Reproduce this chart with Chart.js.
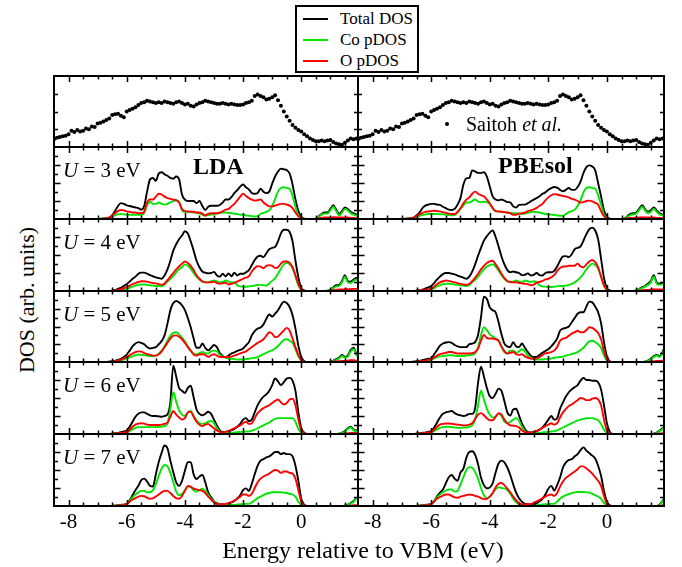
<!DOCTYPE html>
<html>
<head>
<meta charset="utf-8">
<title>DOS vs U</title>
<script src="https://cdn.jsdelivr.net/npm/chart.js@4.4.1/dist/chart.umd.min.js"></script>
<style>
  html, body { margin:0; padding:0; background:#fff; }
  #fig { position:relative; width:682px; height:567px; overflow:hidden; font-family:"Liberation Serif","Times New Roman",serif; color:#000; }
  #fig canvas { position:absolute; }
  .txt { position:absolute; white-space:nowrap; line-height:1; }
</style>
</head>
<body>
<div id="fig"></div>
<script>
// ---- axis / tick values ----
const E_MIN = -8.5, E_MAX = 1.95;
const X_LABELS = [-8, -6, -4, -2, 0];
const X_MINOR = [-8, -7.5, -7, -6.5, -6, -5.5, -5, -4.5, -4, -3.5, -3, -2.5, -2, -1.5, -1, -0.5, 0, 0.5, 1, 1.5];
const Y_MINOR = [12.5, 25, 37.5, 50, 62.5, 75, 87.5];
const Y_MAJOR = [25, 50, 75];
const U_VALUES = [3, 4, 5, 6, 7];

// energy grids (eV)
const E_VB = [-7.0,-6.9,-6.8,-6.7,-6.6,-6.5,-6.4,-6.3,-6.2,-6.1,-6.0,-5.9,-5.8,-5.7,-5.6,-5.5,-5.4,-5.3,-5.2,-5.1,-5.0,-4.9,-4.8,-4.7,-4.6,-4.5,-4.4,-4.3,-4.2,-4.1,-4.0,-3.9,-3.8,-3.7,-3.6,-3.5,-3.4,-3.3,-3.2,-3.1,-3.0,-2.9,-2.8,-2.7,-2.6,-2.5,-2.4,-2.3,-2.2,-2.1,-2.0,-1.9,-1.8,-1.7,-1.6,-1.5,-1.4,-1.3,-1.2,-1.1,-1.0,-0.9,-0.8,-0.7,-0.6,-0.5,-0.4,-0.3,-0.2,-0.1,0.0,0.1,0.2];
const E_CB = [0.4,0.5,0.6,0.7,0.8,0.9,1.0,1.1,1.2,1.3,1.4,1.5,1.6,1.7,1.8,1.9,1.95];

// ---- Saitoh et al. experiment ----
const EXP_E = [-8.5,-8.4,-8.3,-8.2,-8.1,-8.0,-7.9,-7.8,-7.7,-7.6,-7.5,-7.4,-7.3,-7.2,-7.1,-7.0,-6.9,-6.8,-6.7,-6.6,-6.5,-6.4,-6.3,-6.2,-6.1,-6.0,-5.9,-5.8,-5.7,-5.6,-5.5,-5.4,-5.3,-5.2,-5.1,-5.0,-4.9,-4.8,-4.7,-4.6,-4.5,-4.4,-4.3,-4.2,-4.1,-4.0,-3.9,-3.8,-3.7,-3.6,-3.5,-3.4,-3.3,-3.2,-3.1,-3.0,-2.9,-2.8,-2.7,-2.6,-2.5,-2.4,-2.3,-2.2,-2.1,-2.0,-1.9,-1.8,-1.7,-1.6,-1.5,-1.4,-1.3,-1.2,-1.1,-1.0,-0.9,-0.8,-0.7,-0.6,-0.5,-0.4,-0.3,-0.2,-0.1,0.0,0.1,0.2,0.3,0.4,0.5,0.6,0.7,0.8,0.9,1.0,1.1,1.2,1.3,1.4,1.5,1.6,1.7,1.8,1.9];
const EXP_I = [11,13,14,15,16,18,23,21,24,22, 23,26,25,29,28,33,34,36,38,40, 45,46,47,44,42,50,52,54,56,59,
  62,63,65,64,63,62,63,62,64,63, 62,61,63,64,62,60,61,58,57,60, 62,63,65,64,63,62,61,61,62,61,
  60,61,60,59,59,60,62,63,65,72, 74,72,70,67,68,70,73,66,58,50, 43,37,31,27,24,22,18,15,12,10,
  8,8,9,8,9,10,7,5,4,3, 6,9,12,11,12];

// ---- LDA, valence band (Total / Co p / O p) ----
const LDA3_TOT = [0,0.3,0.7,1.2, 2,5,11,18,22,21,19,18,17,16, 15,13,18,38,55,57,53,63,65,62, 60,57,56,59,55,34,27,25,25,25, 22,25,18,12.5,17,18.5,18.5,18.5,19.5,23, 27,27,30.5,36,40,45,48,44,41,36, 35,36,42,38,36,38,49,59,66,70, 69,68,63,48,27,11,3,0.5,0];
const LDA3_CO = [0,0.1,0.3,0.5, 1,3,5,6.5,7,6.5,6,6,6,6, 6,6,8,19,24,21,21,23,21,20, 21,23,25,26,24,12,10,10,9.5,9, 8.5,8,6,4.5,5.5,6,7,7.5,8.5,9, 9,8.5,8,7.5,7,6,6,5,4.5,4, 3.5,4,7,8.5,10,12,18,28,38,43, 44,43,42,32,17,5,1.5,0,0];
const LDA3_O = [0,0.2,0.4,0.7, 2,5,8,11,12.5,12,10.5,10,9,9, 8,8,10.5,23,27,27,31,35,34,31, 29,28,27,26,23,14,11,10.5,10,10, 9,9,7.5,5,7,8,8,8,9,10.5, 13,14,17.5,21,26,31,35,32,29,27, 25.5,26,27,23,20,17.5,17.5,18.5,20,21, 21,20,18.5,15,9,3.7,1.4,0,0];
const LDA4_TOT = [0,0,0,0, 0,0.5,1.4,3,4.5,7,9.5,13,17,20, 24,25.5,25.5,24,22,20.5,19,18,17,21.5, 30,42,56,65,72,77,83,80,69,56, 42,33,27,25.5,24.5,25,26.5,21.5,20,24, 20.5,24.5,20.5,25.5,21.5,24,24,26,29,36, 43,48,49,47,52.5,58,60,61,69,80, 85,85,82,69,42,19,4,1,0];
const LDA4_CO = [0,0,0,0, 0,0.2,0.5,1,1.5,2,3,4.5,6,7.5, 8.5,9,9,8.5,8,7.5,7,7,6.5,9, 13,17,21,26,30,33,37,35,31,25, 20,16,13,12,12,13.5,14.5,13.5,12,12.5, 14.5,13,12,12,8,6.5,6,6,6.5,7, 7.5,8.5,8.5,8,7.5,10.5,14,18,24,31, 37,39,37,32,20,8,2,0,0];
const LDA4_O = [0,0,0,0, 0,0.3,0.8,1.5,2.5,4,5.5,7.5,9.5,11, 12.5,13.5,13.5,13,12,11,10.5,9.5,8.5,10.5, 15,20,25,30,34,38,41,39,35,29, 22,17,13.5,12,12,12,13,11,10,11, 11.5,9,10,11.5,13,15,17,18.5,20.5,27, 32,34.5,34,31.5,35,36,35,32,33,38, 41,41,39,33,22,10,2,0,0];
const LDA5_TOT = [0,0,0,0, 0.5,1,2,3,4.5,7,10.5,16,22,26, 28,27,25,21,19,20,21,25,29.5,37.5, 54,73,83,86,84,80,73,62,49,33, 20,20,26,20,16.5,20,24,21,12.5,8.5, 7,9,12,13.5,15.5,17,19,23.5,28,37.5, 43.5,47,48.5,53,61,67,64,68,73,80, 85,83,77.5,66,47,23,7,1.5,0];
const LDA5_CO = [0,0,0,0, 0.2,0.4,0.8,1.5,2.5,3.5,5,6.5,8,9.5, 10.5,10,9.5,9,8.5,8.5,9,11.5,16,22, 30,37,41,42,39,34,29,22,16,12, 11,12.5,14,12.5,12,15,16,15,10,7.5, 6,5,4.5,4,3.5,3.5,3.5,4,4.5,5.5, 6,7,9,11,13,15,16.5,19,22.5,27, 31,32,30,27,18,8,2,0,0];
const LDA5_O = [0,0,0,0, 0.3,0.6,1.2,2,3,5,7,9.5,12,14, 15,14.5,12.5,11,10,9,9,11,15,21, 27,33,37,37.5,35.5,32,27,21,16,10.5, 9,11,11,10,7,9.5,11,9,7,7, 7,7,7.5,9,10.5,12,13.5,15,18,21, 24,27,29,32,37,42,40,35,36,40, 44.5,48,44,33,21,10,3,0.5,0];
const LDA6_TOT = [0,0,0,0, 0,0.5,1,1.5,2.5,3.5,5,10,17,24, 28,30,30,28,26,25,25,24.5,24,25, 27,44,95,80,64,60,57,64,67,51, 34,28,26,28,31,28,20,12,5,2.5, 3,4,5,7,10,14,20,22,18,20, 30,40,47,52,55,60,68,77,73,68, 72,77,78,74,60,30,8,2,0];
const LDA6_CO = [0,0,0,0, 0,0.2,0.5,0.8,1,1.5,2,4,6.5,8.5, 9.5,9.5,9.5,9.5,9.5,9.5,9.5,10,10,11, 14,35,58,45,33,27,25,30,32,25, 19,15,14,15,17,18,15,8,3,1.5, 1.5,1.5,1.5,2,2.5,3,3,3.5,3.5,4.5, 6,8,10,12,14,16,19,21,22,22, 22,22,22,22,17,7,2,0,0];
const LDA6_O = [0,0,0,0, 0,0.3,0.7,1,1.5,2,3,6,10,13, 14.5,15,14.5,13,12.5,12.5,12.5,12.5,13,14, 16,24,32,27,23,20,22,30,31,24, 17,13,11,13,14,11,8,5,3,2, 3,4,6,8,10,12,15,17,14,15, 22,29,33,36,38,40,43,46,48,44, 41,43,48,49,40,20,5,1,0];
const LDA7_TOT = [0,0,0,0, 0,0.2,0.5,1,1.5,2,3,8,15,22, 28,36,38,34,28,27,44,61,74,84, 80,63,47,33,28,35,49,61,61,44, 37.5,41,43,33,19,12,6.5,4,2.3,2, 3,3.7,5,7,10.6,15,22,24.5,21,31, 44,56,63,65,67.5,69,72,75,75,72, 73.6,72,72,69,56,35,10,2,0];
const LDA7_CO = [0,0,0,0, 0,0.2,0.4,0.6,1,1.5,2.5,7,12,16, 19,21,21,19,19,22,30,42,52,57, 55,46,33,20,15,17,22,27,26,22, 20,22,24,21,16,10,6,3,2,1.5, 1.5,1.5,1.5,1.5,2,2.5,2.5,3,3,5, 8,11,13,15,17,18,19,19,19,19, 18.5,18,17,16,13,6,1.5,0,0];
const LDA7_O = [0,0,0,0, 0,0.2,0.4,0.6,1,1.5,2.5,6,9,11, 13,14,13.5,11.5,10,10.5,13,16,19,21, 21,18,14,11,10,14,21,28,27,24, 23,22,21,18,13,9,5,3,2.5,2.5, 3,4,5.5,7.5,10,13,16,16,14,17, 25,33,38,41,43,45,48,50,49,46, 48,48,46,45,38,22,6,1,0];

// ---- LDA, conduction band ----
const LDA3_TOT_CB = [0,0.5,4,7,9,9,14,19,13,7,11,16,14,10,8,6,5];
const LDA3_CO_CB = [0,0.3,3,6,7.5,7.5,12,17,11,5,9,14,12,8,6,4.5,4];
const LDA3_O_CB = [0,0,1,1.5,2,2,2,2.5,2.5,2,2,2,2,1.5,1.5,1,1];
const LDA4_TOT_CB = [0,0,0,0,0,0.5,2,5,8,8.5,14,22,14,13,16,18,18];
const LDA4_CO_CB = [0,0,0,0,0,0.5,1.5,4,6.5,7,12,20,12,11,14,16,16];
const LDA4_O_CB = [0,0,0,0,0,0,0.5,1,1.5,2,2,2.5,2.5,2.5,3,3,3];
const LDA5_TOT_CB = [0,0,0,0,0,0,0.5,2,4,6,10,7,9,17,20,11,9];
const LDA5_CO_CB = [0,0,0,0,0,0,0.3,1.5,3,5,8.5,6,7.5,15,18,9.5,8];
const LDA5_O_CB = [0,0,0,0,0,0,0,0.5,0.7,1,1.5,1.5,2,2.5,2.5,2,2];
const LDA6_TOT_CB = [0,0,0,0,0,0,0,0,0,0.5,2,4,8,10,6,5,5];
const LDA6_CO_CB = [0,0,0,0,0,0,0,0,0,0.3,1.5,3.5,7,9,5,4,4];
const LDA6_O_CB = [0,0,0,0,0,0,0,0,0,0,0.3,0.5,1,1.5,1.5,1.5,1.5];
const LDA7_TOT_CB = [0,0,0,0,0,0,0,0,0,0,0,0.5,2,4,7,11,10];
const LDA7_CO_CB = [0,0,0,0,0,0,0,0,0,0,0,0.3,1.5,3.5,6,10,9];
const LDA7_O_CB = [0,0,0,0,0,0,0,0,0,0,0,0,0.3,0.5,1,1.2,1.2];

// ---- PBEsol, valence band ----
const PBE3_TOT = [0,0.3,0.7,1.2, 2,5,9,15,18.5,20,21,21,20,19.5, 17,15,13,12.5,14,20,29,48,56.5,57, 67.5,66,64,64,65,59,45,31.5,27,26, 27,25.5,23.5,23,17.5,16,19.5,20,20,22, 24.5,27,29,31.5,35,37,40.5,43,44.5,43.5, 40.5,38.5,40.5,43,40.5,40.5,44.5,52,64,72, 74.5,73,67.5,50,31.5,12,3,0.5,0];
const PBE3_CO = [0,0.1,0.3,0.5, 1,2.5,4.5,5.5,6.5,7,7,7,7,6.5, 6.5,6,5.5,5,5.5,9,14,19,23,23, 25,27,24,23.5,24,23.5,21,15,11,10.5, 10,9.5,9,8.5,8,8,7.5,7,7.5,8.5, 9.5,10,9.5,9,8,7,6.5,6,5.5,5, 4.5,4.5,7,9.5,11,13,18,26,37,43, 44,43,42,33,20,6,1.5,0,0];
const PBE3_O = [0,0.2,0.4,0.7, 2,4,6.5,8.5,10,10.5,11,11.5,11,10.5, 9.5,8.5,7.5,7,7,10,15,22,27,30, 35,38,35,33,31.5,27,22,15,11,10.5, 10,9.5,9,8,6,6,7.5,8,9,11, 12,13.5,15.5,18.5,21,26,30,33,34.5,34, 33,32,31,30,28,27,25,23,23.5,25, 25.5,24.5,22.5,20,11,4,1,0,0];
const PBE4_TOT = [0,0,0,0, 0,0.5,1,2,3.5,5,7,11,16,20, 23.5,25,25,24,23,21.5,20,18.5,17,20, 27,37,49,60,70,76,81,84,75,62, 48,37,29,26,27,26,25,22,22.5,24.5, 21.5,22.5,25,22,21.5,25,26,26,28,34, 42,48,48.5,47,51,58,60,62,70,79, 86,88,84,72,45,18,4,1,0];
const PBE4_CO = [0,0,0,0, 0,0.2,0.4,0.7,1,1.5,2,4,6.5,8, 9.5,10,10,9.5,9,8.5,8,7.5,7,8.5, 12,15.5,20,25,30,34,36,37,34,28, 22,17,13.5,12.5,13,14.5,13,12,14.5,13.5, 12.5,13.5,12,8,6.5,6,5.5,5.5,6,6.5, 7,7,7.5,8.5,10,12,15,19,24,30, 35,38,36,31,20,7,1.5,0,0];
const PBE4_O = [0,0,0,0, 0,0.3,0.6,1,1.8,2.5,3.5,6,9.5,12, 13.5,14.5,14,13,12,11,10,9,8.5,10, 13.5,18.5,24,30,35,39,41,42,37,31, 24,18,14,12.5,12,12,11.5,10.5,10,9.5, 8,9,11.5,12.5,14,16,17,19,22,28, 32,34,34,35,35,35,38,34,33,37, 41,43,40,33,20,8,2,0,0];
const PBE5_TOT = [0,0,0,0, 0.5,1,1.5,2.5,3.5,4.5,5,11,17,23, 26,27.5,28,27,24,22,21,21,21,25, 26,28,38,63,92,89,77,73,70,56, 39,26,22,21,28,22,21,26,20,14, 9,7,7,10,13,15.5,18,22,27,33, 44,47,48,50,56,62,68,70,70,78, 85,84,78,70,55,28,8,1,0];
const PBE5_CO = [0,0,0,0, 0,0.3,0.6,1,1.5,2,3,5,7,8, 8.5,9,9.5,9.5,9,8.5,8.5,8.5,9,9.5, 10,12,20,38,49,45,39,36,33,30, 21,14,12,16,16,13,15,18,15,9, 6,4,3.5,3.5,3.5,4,4.5,5,6,6.5, 7,7.5,9,10,11,12.5,14,17,20,25, 29,30,28,25,20,9,2,0,0];
const PBE5_O = [0,0,0,0, 0,0.5,1,1.5,2,3,4,6.5,9,11, 12,13,14,14,13,12,12,12,12,12, 12.5,14,19,30,38,34,33,33,32,30, 22,15.5,12,13,14,11,10,11,8,6, 5,4.5,5,7,10,12,13,14,16,21, 30,33,34,37,40,42,44,42,42,45, 49,48,45,41,32,15,4,0.5,0];
const PBE6_TOT = [0,0,0,0, 0,0.5,1,1.5,2,3,4,9,16,23, 28,30,31,32,29,27,26,25,26,28, 28,36,71,93.5,80,64,52.5,50,56,63, 60,45.6,30,25.6,34,35,25.6,14.4,7,2.8, 2,3,4,6,9,14,20,25,20,22, 35,44,52,58,62,65,68,74,78,75, 75,74,74,72,62,40,15,3,0];
const PBE6_CO = [0,0,0,0, 0,0.2,0.4,0.7,1,1.5,2,4,6.5,8.5, 9.5,10,10,9.5,9,8.5,8.5,9,9,10, 12,20,40,60,48,35,27,23,24,28, 25,17,15,17,20,22,18,10,4,1.5, 1.5,1.5,1.5,1.5,2,2.5,3,3.5,4,5, 7,9,11,13,15,17,19,20,21,22, 22,22,21,19,14,6,1.5,0,0];
const PBE6_O = [0,0,0,0, 0,0.3,0.6,1,1.5,2,3,6,10,13, 14,14.5,14.5,14,13.5,13,12.5,12,12,13, 15,21,27,29,26,22,19,19,24,29, 27,20,15,12,11.5,11,9,5,2.5,2, 2,3,4,6,8.5,11,13,15,13,15, 23,30,35,39,41,44,47,50,49,47, 47,49,50,48,40,20,5,1,0];
const PBE7_TOT = [0,0,0,0, 0,0.2,0.5,1,1.5,2,3,7,13.5,18.6, 23,31.6,40,43,38,35,46.5,52,67,75, 76,71,58,39.5,29,24.6,25.6,31.6,46.5,59, 63,60.5,53.5,43,30,18.6,10.7,6,2.8,2.5, 2,2.3,3.7,6.5,10,16,24,28,21.4,29, 39.5,53.5,60.5,64,65,69,72,77.7,81.4,77, 73.5,70,66,56,42,21,6,1,0];
const PBE7_CO = [0,0,0,0, 0,0.2,0.4,0.7,1,1.5,2.5,7,12,16, 19,21.5,23,23,20,21,30,40,50,54, 53,47,38,25,15,11,13,18,23,26, 25,24.5,22,17,10,5,2.5,1.5,1,0.5, 0.5,0.5,1,1.5,2,2.5,2.5,3,3,6, 10,13,15,16.5,18,19,19.5,19.5,19.5,19, 18.5,17,15,13,10,4,1,0,0];
const PBE7_O = [0,0,0,0, 0,0.2,0.4,0.7,1,1.5,2.5,6,10,12.5, 14.5,16,16,14,12,11.5,13,14,15,16, 15.5,14,13,11,9.5,10,13,18,26,31, 32,29,24,19,13,8,4,2.5,2,2.5, 3,4.5,6.5,8.5,11,13,15,16,14,18, 27,34,39,42,45,48,51,55,55,52, 49,45,40,35,28,14,3,0,0];

// ---- PBEsol, conduction band ----
const PBE3_TOT_CB = [0,0,0.5,4,7,8,9,14,19,14,10,12,16,12,8,6,5];
const PBE3_CO_CB = [0,0,0.3,3,5.5,6.5,7.5,12,17,12,8,10,14,10,6.5,5,4];
const PBE3_O_CB = [0,0,0,1,1.5,1.5,2,2,2.5,2,2,2,2,1.5,1.5,1,1];
const PBE4_TOT_CB = [0,0,0,0,0,0,1,3,5,7,10,14,22,12,10,11,12];
const PBE4_CO_CB = [0,0,0,0,0,0,0.7,2.5,4,6,8.5,12,20,10,8.5,9.5,10.5];
const PBE4_O_CB = [0,0,0,0,0,0,0.3,0.5,1,1.5,1.5,2,2.5,2,2,2,2];
const PBE5_TOT_CB = [0,0,0,0,0,0,0,0,0,0.5,2,5,8,10,8,14,19];
const PBE5_CO_CB = [0,0,0,0,0,0,0,0,0,0.3,1.5,4,7,9,7,12.5,17];
const PBE5_O_CB = [0,0,0,0,0,0,0,0,0,0,0.3,0.8,1.2,1.5,1.5,2,2.5];
const PBE6_TOT_CB = [0,0,0,0,0,0,0,0,0,0,0,0,0.5,2,5,8,9];
const PBE6_CO_CB = [0,0,0,0,0,0,0,0,0,0,0,0,0.3,1.5,4,7,8];
const PBE6_O_CB = [0,0,0,0,0,0,0,0,0,0,0,0,0,0.3,0.6,1,1.2];
const PBE7_TOT_CB = [0,0,0,0,0,0,0,0,0,0,0,0,0,0,2,7,10];
const PBE7_CO_CB = [0,0,0,0,0,0,0,0,0,0,0,0,0,0,1.5,6,9];
const PBE7_O_CB = [0,0,0,0,0,0,0,0,0,0,0,0,0,0,0.3,0.8,1];

const LDA_SETS = [
  [LDA3_TOT, LDA3_CO, LDA3_O, LDA3_TOT_CB, LDA3_CO_CB, LDA3_O_CB],
  [LDA4_TOT, LDA4_CO, LDA4_O, LDA4_TOT_CB, LDA4_CO_CB, LDA4_O_CB],
  [LDA5_TOT, LDA5_CO, LDA5_O, LDA5_TOT_CB, LDA5_CO_CB, LDA5_O_CB],
  [LDA6_TOT, LDA6_CO, LDA6_O, LDA6_TOT_CB, LDA6_CO_CB, LDA6_O_CB],
  [LDA7_TOT, LDA7_CO, LDA7_O, LDA7_TOT_CB, LDA7_CO_CB, LDA7_O_CB]
];
const PBE_SETS = [
  [PBE3_TOT, PBE3_CO, PBE3_O, PBE3_TOT_CB, PBE3_CO_CB, PBE3_O_CB],
  [PBE4_TOT, PBE4_CO, PBE4_O, PBE4_TOT_CB, PBE4_CO_CB, PBE4_O_CB],
  [PBE5_TOT, PBE5_CO, PBE5_O, PBE5_TOT_CB, PBE5_CO_CB, PBE5_O_CB],
  [PBE6_TOT, PBE6_CO, PBE6_O, PBE6_TOT_CB, PBE6_CO_CB, PBE6_O_CB],
  [PBE7_TOT, PBE7_CO, PBE7_O, PBE7_TOT_CB, PBE7_CO_CB, PBE7_O_CB]
];

// ---- layout ----
const COLOR_TOT = '#000000', COLOR_CO = '#00e600', COLOR_O = '#ff0000';
const COLS = [{ left: 54, width: 304, sets: LDA_SETS }, { left: 358, width: 306, sets: PBE_SETS }];
const ROWS = [76, 147, 219, 291, 362, 434, 506];
const PAD = 4;

const fig = document.getElementById('fig');

// frame + inward ticks drawn from the chart's own scales
const frameTicks = {
  id: 'frameTicks',
  afterDatasetsDraw(chart, args, opts) {
    const ctx = chart.ctx, a = chart.chartArea;
    const xs = chart.scales.x, ys = chart.scales.y;
    ctx.save();
    ctx.strokeStyle = '#000';
    ctx.lineWidth = 1.5;
    ctx.beginPath();
    X_MINOR.forEach(v => {
      const px = Math.round(xs.getPixelForValue(v)) + 0.5;
      const len = X_LABELS.includes(v) ? 6 : 3.5;
      ctx.moveTo(px, a.bottom); ctx.lineTo(px, a.bottom - len);
      ctx.moveTo(px, a.top); ctx.lineTo(px, a.top + len);
    });
    opts.yTicks.forEach(v => {
      const py = Math.round(ys.getPixelForValue(v)) + 0.5;
      const len = opts.yMajor.includes(v) ? 6.5 : 4;
      ctx.moveTo(a.left, py); ctx.lineTo(a.left + len, py);
      ctx.moveTo(a.right, py); ctx.lineTo(a.right - len, py);
    });
    ctx.stroke();
    ctx.lineWidth = 2;
    ctx.strokeRect(a.left, a.top, a.right - a.left, a.bottom - a.top);
    if (opts.labels) {
      ctx.fillStyle = '#000';
      ctx.font = '21px "Liberation Serif", "Times New Roman", serif';
      ctx.textAlign = 'center';
      ctx.textBaseline = 'alphabetic';
      X_LABELS.forEach(v => ctx.fillText(String(v), xs.getPixelForValue(v), a.bottom + 22));
    }
    ctx.restore();
  }
};

function toPoints(vb, cb) {
  const pts = [{ x: E_MIN, y: 0 }];
  E_VB.forEach((e, i) => pts.push({ x: e, y: vb[i] }));
  E_CB.forEach((e, i) => pts.push({ x: e, y: cb[i] }));
  return pts;
}

function curve(pts, color) {
  return { data: pts, borderColor: color, borderWidth: 1.9, pointRadius: 0, fill: false, cubicInterpolationMode: 'monotone' };
}

function addPanel(left, top, w, h, datasets, opts) {
  const padB = opts.labels ? 34 : PAD;
  const cv = document.createElement('canvas');
  cv.width = w + 2 * PAD;
  cv.height = h + PAD + padB;
  cv.style.left = (left - PAD) + 'px';
  cv.style.top = (top - PAD) + 'px';
  fig.appendChild(cv);
  new Chart(cv, {
    type: 'line',
    data: { datasets: datasets },
    options: {
      responsive: false, animation: false, devicePixelRatio: 1,
      layout: { padding: { left: PAD, right: PAD, top: PAD, bottom: padB } },
      plugins: { legend: { display: false }, tooltip: { enabled: false }, frameTicks: opts },
      scales: {
        x: { type: 'linear', min: E_MIN, max: E_MAX, display: false },
        y: { type: 'linear', min: 0, max: 100, display: false }
      }
    },
    plugins: [frameTicks]
  });
}

function txt(html, x, baseline, size, extra) {
  return '<div class="txt" style="left:' + x + 'px;top:' + (baseline - 0.836 * size).toFixed(1) + 'px;font-size:' + size + 'px;' + (extra || '') + '">' + html + '</div>';
}

// experiment panels (top row)
const expPts = EXP_E.map((e, i) => ({ x: e, y: EXP_I[i] }));
COLS.forEach(col => {
  addPanel(col.left, ROWS[0], col.width, ROWS[1] - ROWS[0], [{
    data: expPts, showLine: false, pointRadius: 2, pointBackgroundColor: '#000', pointBorderWidth: 0
  }], { yTicks: Y_MAJOR, yMajor: [], labels: false });
});

// DOS panels
COLS.forEach(col => {
  col.sets.forEach((s, r) => {
    const top = ROWS[r + 1], h = ROWS[r + 2] - ROWS[r + 1];
    addPanel(col.left, top, col.width, h, [
      curve(toPoints(s[2], s[5]), COLOR_O),
      curve(toPoints(s[1], s[4]), COLOR_CO),
      curve(toPoints(s[0], s[3]), COLOR_TOT)
    ], { yTicks: Y_MINOR, yMajor: Y_MAJOR, labels: r === col.sets.length - 1 });
  });
});

// text overlays
let html = '';
U_VALUES.forEach((u, r) => {
  html += txt('<i>U</i> = ' + u + ' eV', 63, ROWS[r + 1] + 31, 21);
});
html += txt('LDA', 193, 174, 24, 'font-weight:bold;');
html += txt('PBEsol', 498, 173, 24, 'font-weight:bold;');
html += '<div style="position:absolute;left:445px;top:122px;width:4px;height:4px;border-radius:50%;background:#000"></div>';
html += txt('Saitoh <i>et al.</i>', 466, 131, 20);

// legend
html += '<div style="position:absolute;left:295px;top:5px;width:124px;height:68px;border:2px solid #000;box-sizing:border-box;background:#fff"></div>';
[['Total DOS', COLOR_TOT, 19], ['Co pDOS', COLOR_CO, 40], ['O pDOS', COLOR_O, 61]].forEach(function (e) {
  html += '<div style="position:absolute;left:303px;top:' + (e[2] - 1) + 'px;width:25px;height:2px;background:' + e[1] + '"></div>';
  html += txt(e[0], 340, e[2] + 5.5, 17);
});

// axis titles
html += '<div class="txt" style="left:363px;top:538px;font-size:24px;transform:translateX(-50%)">Energy relative to VBM (eV)</div>';
html += '<div class="txt" style="left:27px;top:300px;font-size:22px;transform:translate(-50%,-50%) rotate(-90deg)">DOS (arb. units)</div>';

fig.insertAdjacentHTML('beforeend', html);
</script>
</body>
</html>
